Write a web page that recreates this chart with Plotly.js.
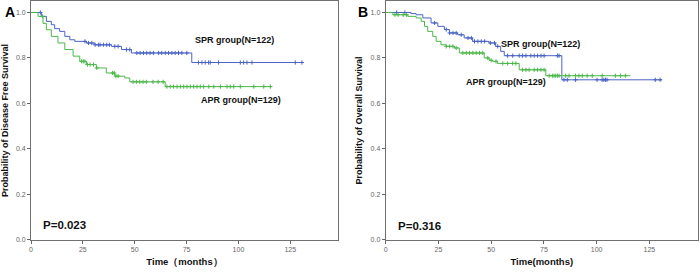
<!DOCTYPE html>
<html>
<head>
<meta charset="utf-8">
<script src="https://cdn.plot.ly/plotly-3.0.1.min.js"></script>
<style>html,body{margin:0;padding:0;background:#fff}#chart{width:700px;height:278px}</style>
</head>
<body>
<div id="chart"></div>
<script>
// ---- Panel A: Disease free survival ----
var spr_a_t = [0, 5, 7.4, 9.8, 11.4, 13.8, 16.3, 18.7, 21.1, 26.7, 30.7, 38.8, 43.6, 48.4, 50.8, 77.5, 131];
var spr_a_s = [1, 0.983, 0.961, 0.946, 0.929, 0.917, 0.895, 0.880, 0.873, 0.866, 0.858, 0.851, 0.837, 0.822, 0.822, 0.780, 0.780];
var spr_a_cens = [4.5, 26, 27.7, 29.3, 30.9, 32.5, 33.3, 34.9, 36.5, 37.8, 40.4, 42, 46, 47.6, 51, 52.6, 54.2, 55.8, 57.4, 59, 61.5, 63, 64.7, 66.3, 67.9, 69.5, 71.1, 72.7, 75.1, 80.7, 82.4, 84, 85.6, 86.4, 90.4, 100.9, 102.5, 104.1, 106.5, 127.4, 130.6];

var apr_a_t = [0, 3.4, 5.8, 7.4, 9.8, 13, 16.3, 20.3, 23.5, 26.7, 31.5, 36.3, 40.4, 45.2, 47.6, 64.7, 116.2];
var apr_a_s = [1, 0.983, 0.952, 0.924, 0.895, 0.866, 0.837, 0.808, 0.785, 0.771, 0.756, 0.734, 0.720, 0.712, 0.695, 0.674, 0.674];
var apr_a_cens = [5.5, 24.4, 25.2, 26, 27.2, 28.5, 30.1, 31.7, 39.3, 40.1, 40.9, 42, 49.2, 50.8, 52.4, 54, 55.6, 58.8, 61.3, 63.7, 65.5, 67.1, 68.7, 70.4, 72, 73.6, 75.2, 76.8, 78.4, 80, 81.6, 83.2, 85.7, 88.1, 91.3, 94.5, 96.1, 97.7, 100.9, 107.4, 112.2, 115.4];

// ---- Panel B: Overall survival ----
var spr_b_t = [0, 12, 14.4, 17.6, 21.5, 24.7, 27.8, 30.2, 34.1, 37.2, 41.2, 49, 52.1, 54.5, 56.2, 83.5, 131];
var spr_b_s = [1, 0.995, 0.990, 0.976, 0.954, 0.939, 0.925, 0.910, 0.902, 0.888, 0.873, 0.866, 0.851, 0.829, 0.810, 0.704, 0.704];
var spr_b_cens = [5.2, 9.1, 23.2, 28.7, 30.3, 31.9, 33.4, 35.8, 39, 40.6, 42.1, 43.7, 45.3, 46.9, 49.6, 51.6, 53.1, 57.8, 60.2, 63.3, 64.9, 66.5, 68.8, 70.4, 72, 73.6, 75.1, 81.4, 82.2, 84.5, 86.1, 90, 100.2, 102.6, 103.4, 104.2, 104.9, 127.8, 130.1];

var apr_b_t = [0, 3.4, 10.5, 14.4, 16.8, 18.4, 19.9, 22.3, 23.9, 26.2, 28.6, 32.5, 34.9, 46.7, 49, 50.6, 52.9, 63.3, 75.9, 116];
var apr_b_s = [1, 0.990, 0.983, 0.976, 0.961, 0.939, 0.917, 0.895, 0.873, 0.858, 0.851, 0.844, 0.822, 0.800, 0.790, 0.785, 0.776, 0.748, 0.722, 0.722];
var apr_b_cens = [4.4, 5.9, 8.3, 9.9, 28.7, 30.3, 31.9, 33.4, 36.6, 38.2, 39.7, 41.3, 42.9, 44.5, 46, 48.4, 50, 52.3, 55.5, 57.8, 60.2, 61.7, 64.9, 66.5, 68, 70.4, 72, 73.6, 75.1, 77.5, 79, 79.8, 80.6, 81.4, 82.2, 85.3, 86.9, 90, 91.6, 93.2, 95.5, 97.9, 102.6, 108.9, 111.3, 113.6];

var xTicks = [0, 25, 50, 75, 100, 125];
var yTicks = [0, 0.2, 0.4, 0.6, 0.8, 1.0];
var yTickText = ['0.0', '0.2', '0.4', '0.6', '0.8', '1.0'];

var BLUE = '#4a63c6', GREEN = '#4cb84a';

function stepAt(ts, ss, t) {
  var v = ss[0];
  for (var i = 0; i < ts.length; i++) { if (ts[i] <= t) v = ss[i]; }
  return v;
}
function curve(ts, ss, color, xa, ya) {
  return {x: ts, y: ss, type: 'scatter', mode: 'lines', line: {shape: 'hv', color: color, width: 1},
          xaxis: xa, yaxis: ya, hoverinfo: 'skip', showlegend: false};
}
function cens(ts, ss, ct, color, xa, ya) {
  return {x: ct, y: ct.map(function (t) { return stepAt(ts, ss, t); }), type: 'scatter', mode: 'markers',
          marker: {symbol: 'cross-thin-open', size: 3, line: {color: color, width: 1}, color: color},
          xaxis: xa, yaxis: ya, hoverinfo: 'skip', showlegend: false};
}

var data = [
  curve(spr_a_t, spr_a_s, BLUE, 'x', 'y'),
  curve(apr_a_t, apr_a_s, GREEN, 'x', 'y'),
  cens(spr_a_t, spr_a_s, spr_a_cens, BLUE, 'x', 'y'),
  cens(apr_a_t, apr_a_s, apr_a_cens, GREEN, 'x', 'y'),
  curve(spr_b_t, spr_b_s, BLUE, 'x2', 'y2'),
  curve(apr_b_t, apr_b_s, GREEN, 'x2', 'y2'),
  cens(spr_b_t, spr_b_s, spr_b_cens, BLUE, 'x2', 'y2'),
  cens(apr_b_t, apr_b_s, apr_b_cens, GREEN, 'x2', 'y2')
];

var FONT = 'Liberation Sans, Arial, sans-serif';
var tickFont = {family: FONT, size: 7, color: '#666'};
function xax(dom, title, anchor) {
  return {domain: dom, range: [0, 148], tickvals: xTicks, ticks: 'outside', ticklen: 3, tickcolor: '#666',
          tickfont: tickFont, showgrid: false, zeroline: false, showline: true, linecolor: '#707070', linewidth: 1,
          mirror: true, anchor: anchor,
          title: {text: title, font: {family: FONT, size: 9.5, color: '#111', weight: 'bold'}, standoff: 6}};
}
function yax(title, anchor) {
  return {domain: [0.137, 0.996], range: [0, 1.05], tickvals: yTicks, ticktext: yTickText, ticks: 'outside',
          ticklen: 3, tickcolor: '#666', tickfont: tickFont, showgrid: false, zeroline: false, showline: true,
          linecolor: '#707070', linewidth: 1, mirror: true, anchor: anchor,
          title: {text: title, font: {family: FONT, size: 9, color: '#111', weight: 'bold'}, standoff: 6}};
}

var layout = {
  width: 700, height: 278,
  margin: {l: 0, r: 0, t: 0, b: 0},
  paper_bgcolor: '#fff', plot_bgcolor: '#fff',
  showlegend: false,
  xaxis: xax([0.0443, 0.4829], 'Time（months）', 'y'),
  yaxis: yax('Probability of Disease Free Survival', 'x'),
  xaxis2: xax([0.551, 0.997], 'Time(months)', 'y2'),
  yaxis2: yax('Probability of Overall Survival', 'x2'),
  annotations: [
    {xref: 'paper', yref: 'paper', x: 3 / 700, y: 1 - 12 / 278, text: '<b>A</b>', showarrow: false,
     xanchor: 'left', yanchor: 'middle', font: {family: FONT, size: 14, color: '#000'}},
    {xref: 'paper', yref: 'paper', x: 356 / 700, y: 1 - 12 / 278, text: '<b>B</b>', showarrow: false,
     xanchor: 'left', yanchor: 'middle', font: {family: FONT, size: 14, color: '#000'}},
    {xref: 'x', yref: 'y', x: 98, y: 0.877, text: '<b>SPR group(N=122)</b>', showarrow: false,
     font: {family: FONT, size: 9, color: '#111'}},
    {xref: 'x', yref: 'y', x: 101, y: 0.616, text: '<b>APR group(N=129)</b>', showarrow: false,
     font: {family: FONT, size: 9, color: '#111'}},
    {xref: 'x', yref: 'y', x: 5, y: 0.065, text: '<b>P=0.023</b>', showarrow: false, xanchor: 'left',
     font: {family: FONT, size: 11.5, color: '#111'}},
    {xref: 'x2', yref: 'y2', x: 73.5, y: 0.862, text: '<b>SPR group(N=122)</b>', showarrow: false,
     font: {family: FONT, size: 9, color: '#111'}},
    {xref: 'x2', yref: 'y2', x: 57, y: 0.695, text: '<b>APR group(N=129)</b>', showarrow: false,
     font: {family: FONT, size: 9, color: '#111'}},
    {xref: 'x2', yref: 'y2', x: 5, y: 0.062, text: '<b>P=0.316</b>', showarrow: false, xanchor: 'left',
     font: {family: FONT, size: 11.5, color: '#111'}}
  ]
};

Plotly.newPlot('chart', data, layout, {staticPlot: true, displayModeBar: false});
</script>
</body>
</html>
